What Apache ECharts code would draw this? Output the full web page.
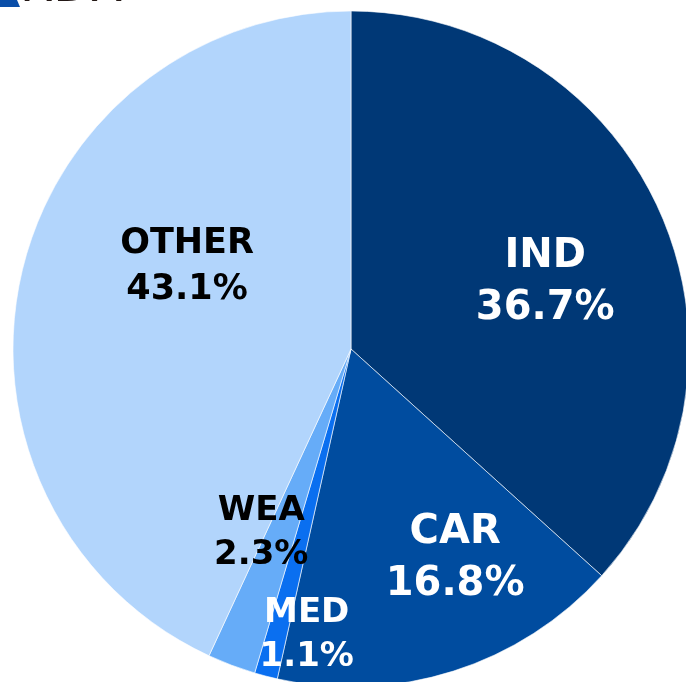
<!DOCTYPE html>
<html>
<head>
<meta charset="utf-8">
<script src="https://cdn.jsdelivr.net/npm/echarts@6/dist/echarts.min.js"></script>
<style>
  html, body { margin: 0; padding: 0; background: #fff; }
  #chart { width: 686px; height: 682px; }
</style>
</head>
<body>
<div id="chart"></div>
<script>
const categories = ["IND", "CAR", "MED", "WEA", "OTHER"];
const shares = [36.7, 16.8, 1.1, 2.3, 43.1];
const sliceColors = ["#003876", "#004c9f", "#0a6ff0", "#66acf8", "#b2d5fc"];
const labelColors = ["#fff", "#fff", "#fff", "#000", "#000"];
const labelSizes = [40, 40, 34, 34, 35];
// nudges from the default inside position (px)
const labelNudges = [[37, 3], [52, 46], [-1, 120], [-29, 23], [4, -45]];

const chart = echarts.init(document.getElementById("chart"), null, { renderer: "canvas" });

const data = categories.map((name, i) => ({
  name,
  value: shares[i],
  itemStyle: { color: sliceColors[i] },
  label: {
    color: labelColors[i],
    fontSize: labelSizes[i],
    lineHeight: labelSizes[i] * 1.3,
  },
}));

chart.setOption({
  animation: false,
  backgroundColor: "#fff",
  graphic: [
    {
      type: "polygon",
      shape: { points: [[0, 0], [17, 0], [20, 7], [0, 7]] },
      style: { fill: "#0a4ea8" },
    },
    {
      // logo cut off at the top edge
      type: "text",
      x: 20,
      y: -35,
      style: {
        text: "RDX",
        fontFamily: "DejaVu Sans",
        fontSize: 48,
        verticalAlign: "top",
        fill: "#231815",
      },
    },
  ],
  series: [
    {
      type: "pie",
      center: [351, 349],
      radius: 338,
      startAngle: 90,
      clockwise: true,
      data,
      itemStyle: { borderColor: "#fff", borderWidth: 0.6 },
      label: {
        show: true,
        position: "inside",
        fontFamily: "DejaVu Sans",
        fontWeight: "bold",
        formatter: (p) => `${p.name}\n${p.value.toFixed(1)}%`,
      },
      labelLayout: (params) => ({
        dx: labelNudges[params.dataIndex][0],
        dy: labelNudges[params.dataIndex][1],
      }),
      emphasis: { disabled: true },
    },
  ],
});
</script>
</body>
</html>
